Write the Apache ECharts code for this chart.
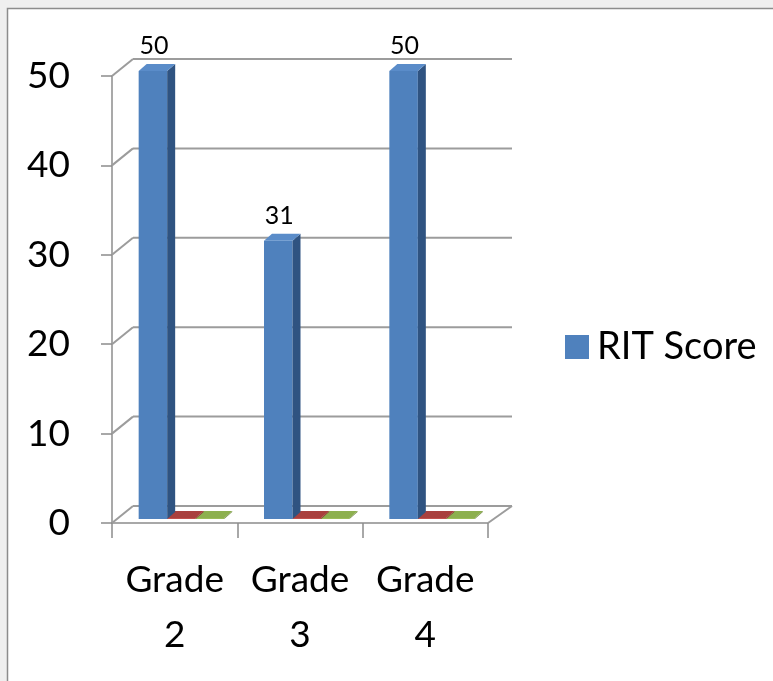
<!DOCTYPE html>
<html><head><meta charset="utf-8">
<script src="https://cdn.jsdelivr.net/npm/echarts@6/dist/echarts.min.js"></script>
<style>html,body{margin:0;padding:0;background:#efefef;}#c{width:773px;height:681px;}</style>
</head><body><div id="c"></div>
<script>
var categories = ['Grade 2', 'Grade 3', 'Grade 4'];
var ritScore = [50, 31, 50];
var series2 = [0, 0, 0];
var series3 = [0, 0, 0];
var yTicks = [0, 10, 20, 30, 40, 50];

var FONT = 'Lato';
var WALL_DX = 21, WALL_DY = 17;
var BAR_DX = 8, BAR_DY = 7, BAR_W = 28.5;

function wallRender(params, api) {
  var v = api.value(0);
  var cs = params.coordSys;
  var p = api.coord([0, v]);
  var y = p[1];
  var left = cs.x, right = cs.x + cs.width;
  var st = {stroke: '#9c9c9c', lineWidth: 2};
  var children = [
    {type: 'line', shape: {x1: left, y1: y, x2: left + WALL_DX, y2: y - WALL_DY}, style: st},
    {type: 'line', shape: {x1: left + WALL_DX, y1: y - WALL_DY, x2: right + WALL_DX + 3, y2: y - WALL_DY}, style: st}
  ];
  if (v === 0) {
    children.push({type: 'line', shape: {x1: right, y1: y, x2: right + WALL_DX + 3, y2: y - WALL_DY}, style: st});
  }
  return {type: 'group', children: children, silent: true};
}

function barRender(k, cFront, cSide, cTop) {
  return function (params, api) {
    var idx = api.value(0);
    var v = api.value(1);
    var base = api.coord([idx, 0]);
    var top = api.coord([idx, v]);
    var x0 = base[0] - 36 + k * BAR_W;
    var yb = base[1] - 4;
    var yt = top[1] - 5;
    var W = BAR_W;
    var children = [];
    if (yb - yt > 0.5) {
      children.push({type: 'rect', shape: {x: x0, y: yt, width: W, height: yb - yt}, style: {fill: cFront}});
      children.push({type: 'polygon', shape: {points: [[x0 + W, yt], [x0 + W + BAR_DX, yt - BAR_DY], [x0 + W + BAR_DX, yb - BAR_DY], [x0 + W, yb]]}, style: {fill: cSide}});
    } else {
      yt = yb;
    }
    children.push({type: 'polygon', shape: {points: [[x0, yt], [x0 + BAR_DX, yt - BAR_DY], [x0 + W + BAR_DX, yt - BAR_DY], [x0 + W, yt]]}, style: {fill: cTop}});
    if (k === 0) {
      children.push({type: 'text', x: x0 + W / 2 + 1, y: yt - 25, style: {text: String(v), fontFamily: FONT, fontSize: 25, fill: '#000', align: 'center', verticalAlign: 'middle'}});
    }
    return {type: 'group', children: children};
  };
}

function pairs(arr) { return arr.map(function (v, i) { return [i, v]; }); }

var chart = echarts.init(document.getElementById('c'));
chart.setOption({
  backgroundColor: 'transparent',
  animation: false,
  graphic: [{type: 'rect', shape: {x: 7.5, y: 8.5, width: 800, height: 700}, style: {fill: '#fff', stroke: '#8c8c8c', lineWidth: 1.5}, z: -10, silent: true}],
  legend: {
    data: [{name: 'RIT Score', icon: 'rect'}],
    left: 560, top: 323, itemWidth: 24, itemHeight: 24, itemGap: 14,
    textStyle: {fontFamily: FONT, fontSize: 38, color: '#000', padding: [0, 0, 0, 3]}
  },
  grid: {left: 112, right: 285, top: 76, bottom: 158},
  xAxis: {
    type: 'category', data: categories, boundaryGap: true,
    axisLine: {lineStyle: {color: '#8c8c8c', width: 1.5}},
    axisTick: {show: true, length: 15, lineStyle: {color: '#8c8c8c', width: 1.5}},
    axisLabel: {fontFamily: FONT, fontSize: 37, color: '#000', lineHeight: 55, margin: 30, interval: 0,
      formatter: function (s) { return s.replace(' ', '\n'); }}
  },
  yAxis: {
    type: 'value', min: 0, max: 50, interval: 10,
    axisLine: {show: true, lineStyle: {color: '#8c8c8c', width: 1.5}},
    axisTick: {show: true, length: 11, lineStyle: {color: '#8c8c8c', width: 1.5}},
    splitLine: {show: false},
    axisLabel: {fontFamily: FONT, fontSize: 37, color: '#000', margin: 42}
  },
  series: [
    {type: 'custom', name: 'wall', renderItem: wallRender, data: yTicks.map(function (v) { return [v]; }), encode: {y: 0}, silent: true, z: 1},
    {type: 'custom', name: 'Series3', renderItem: barRender(2, '#9bbb59', '#71893f', '#8db04f'), data: pairs(series3), encode: {x: 0, y: 1}, itemStyle: {color: '#9bbb59'}, z: 2},
    {type: 'custom', name: 'Series2', renderItem: barRender(1, '#c0504d', '#8c3836', '#a9403e'), data: pairs(series2), encode: {x: 0, y: 1}, itemStyle: {color: '#c0504d'}, z: 3},
    {type: 'custom', name: 'RIT Score', renderItem: barRender(0, '#4f81bd', '#2f5381', '#5a8cc9'), data: pairs(ritScore), encode: {x: 0, y: 1}, itemStyle: {color: '#4f81bd'}, z: 4}
  ]
});
</script></body></html>
